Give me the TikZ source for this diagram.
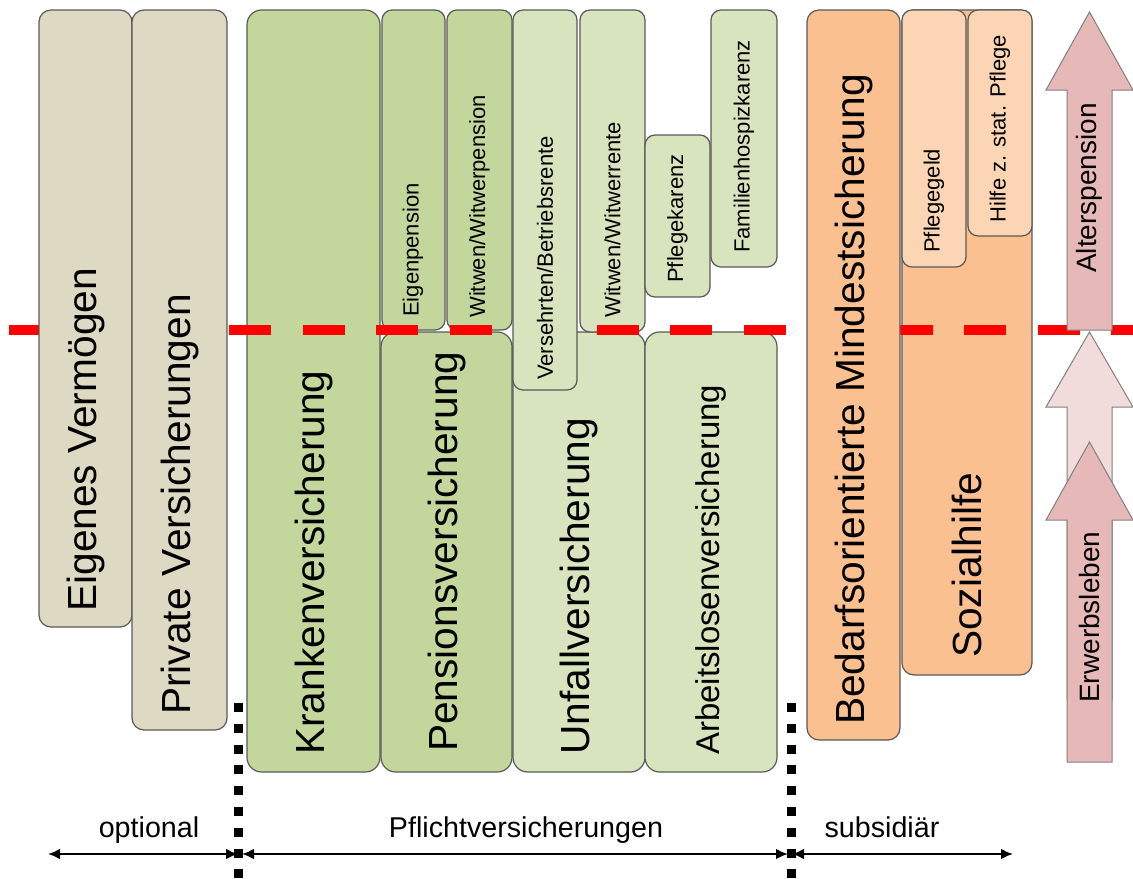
\documentclass[tikz,border=0pt]{standalone}
\usepackage{fontspec}
\setmainfont{Liberation Sans}
\usetikzlibrary{arrows.meta}
\definecolor{beige}{HTML}{DDD9C3}
\definecolor{gdark}{HTML}{C3D69B}
\definecolor{glight}{HTML}{D7E4BD}
\definecolor{odark}{HTML}{FAC090}
\definecolor{olight}{HTML}{FCD5B5}
\definecolor{pdark}{HTML}{E6B9B8}
\definecolor{plight}{HTML}{F2DCDB}
\definecolor{edgegray}{HTML}{595959}
\definecolor{arrgray}{HTML}{808080}
\tikzset{
  box/.style={draw=edgegray, line width=0.9pt, rounded corners=#1},
  box/.default=7.5pt,
  lbl/.style={rotate=90, anchor=west, inner sep=0pt},
  biglbl/.style={lbl, font=\fontsize{30.5}{36}\selectfont},
  midlbl/.style={lbl, font=\fontsize{24.7}{30}\selectfont},
  arrlbl/.style={lbl, font=\fontsize{21}{26}\selectfont},
  smalllbl/.style={lbl, font=\fontsize{16.5}{20}\selectfont},
  bottomlbl/.style={anchor=base, inner sep=0pt, font=\fontsize{21.5}{26}\selectfont},
  bigarrow/.style={draw=arrgray, line width=0.75pt, line join=miter},
  redline/.style={draw=red, line width=7.5pt, dash pattern=on 31.5pt off 23.6pt},
  dotline/.style={draw=black, line width=6.75pt, dash pattern=on 6.75pt off 8.85pt},
  span/.style={draw=black, line width=1.5pt, {Latex[length=9pt,width=8pt]}-{Latex[length=9pt,width=8pt]}}
}
\begin{document}
\begin{tikzpicture}[x=0.75pt,y=-0.75pt]
\useasboundingbox (0,0) rectangle (1133,879);

% --- boxes below the red line ---
\path[box=11pt, fill=gdark] (247,10) rectangle (380,772);
\path[box=11pt, fill=gdark] (381,332) rectangle (512,772);
\path[box, fill=gdark] (382,10) rectangle (445,330);
\path[box, fill=gdark] (447,10) rectangle (512,330);
\path[box=11pt, fill=glight] (513,332) rectangle (645,772);
\path[box, fill=glight] (580,10) rectangle (645,332);
\path[box=11pt, fill=glight] (645,332) rectangle (777,772);
\path[box, fill=glight] (645,135) rectangle (710,297);
\path[box, fill=glight] (711,10) rectangle (777,267);
\path[box=9pt, fill=odark] (902,10) rectangle (1032,675);
\path[box, fill=olight] (902,10) rectangle (966,267);
\path[box, fill=olight] (968,10) rectangle (1032,236);

% --- red dashed line ---
\coordinate (redL) at (9,330);
\coordinate (redR) at (1133,330);
\draw[redline] (redL) -- (redR);

% --- boxes above the red line ---
\path[box=9pt, fill=beige] (39,10) rectangle (132,627);
\path[box=9pt, fill=beige] (132,10) rectangle (227,730);
\path[box, fill=glight] (513,10) rectangle (577,390);
\path[box=9pt, fill=odark] (807,10) rectangle (900,740);

% --- big arrows ---
\draw[bigarrow, fill=plight] (1089.5,332) -- (1133,407) -- (1112,407) -- (1112,700) -- (1067,700) -- (1067,407) -- (1046,407) -- cycle;
\draw[bigarrow, fill=pdark] (1089.5,442) -- (1133,520) -- (1112,520) -- (1112,762) -- (1067,762) -- (1067,520) -- (1046,520) -- cycle;
\draw[bigarrow, fill=pdark] (1089.5,12) -- (1133,90) -- (1112,90) -- (1112,330) -- (1067,330) -- (1067,90) -- (1046,90) -- cycle;

% --- labels ---
\node[biglbl] (eig) at (85.5,612) {Eigenes Vermögen};
\node[biglbl] (priv) at (180,715) {Private Versicherungen};
\node[biglbl] (kv) at (313.5,755) {Krankenversicherung};
\node[biglbl] (pv) at (446.5,752) {Pensionsversicherung};
\node[biglbl] (uv) at (579,755) {Unfallversicherung};
\node[midlbl] (av) at (711,755) {Arbeitslosenversicherung};
\node[biglbl] (bms) at (853.5,725) {Bedarfsorientierte Mindestsicherung};
\node[biglbl] (soz) at (967,658) {Sozialhilfe};
\node[smalllbl] (eigp) at (413,317) {Eigenpension};
\node[smalllbl] (wwp) at (479.5,318) {Witwen/Witwerpension};
\node[smalllbl] (vbr) at (545,380) {Versehrten/Betriebsrente};
\node[smalllbl] (wwr) at (612.5,318) {Witwen/Witwerrente};
\node[smalllbl] (pk) at (677.5,283) {Pflegekarenz};
\node[smalllbl] (fhk) at (744,253) {Familienhospizkarenz};
\node[smalllbl] (pg) at (934,253) {Pflegegeld};
\node[smalllbl] (hsp) at (1000,223) {Hilfe z. stat. Pflege};
\node[arrlbl] (ap) at (1089.5,273) {Alterspension};
\node[arrlbl] (ew) at (1089.5,703) {Erwerbsleben};

% --- bottom ---
\node[bottomlbl] (opt) at (149,837) {optional};
\node[bottomlbl] (pfl) at (526,837) {Pflichtversicherungen};
\node[bottomlbl] (sub) at (882,837) {subsidiär};

\coordinate (a0) at (48,854);
\coordinate (a1) at (238,854);
\coordinate (a2) at (242,854);
\coordinate (a3) at (788,854);
\coordinate (a4) at (792,854);
\coordinate (a5) at (1013,854);
\draw[span] (a0) -- (a1);
\draw[span] (a2) -- (a3);
\draw[span] (a4) -- (a5);

\coordinate (d1t) at (238,703);
\coordinate (d1b) at (238,890);
\coordinate (d2t) at (791,703);
\coordinate (d2b) at (791,890);
\draw[dotline] (d1t) -- (d1b);
\draw[dotline] (d2t) -- (d2b);
\end{tikzpicture}
\end{document}
